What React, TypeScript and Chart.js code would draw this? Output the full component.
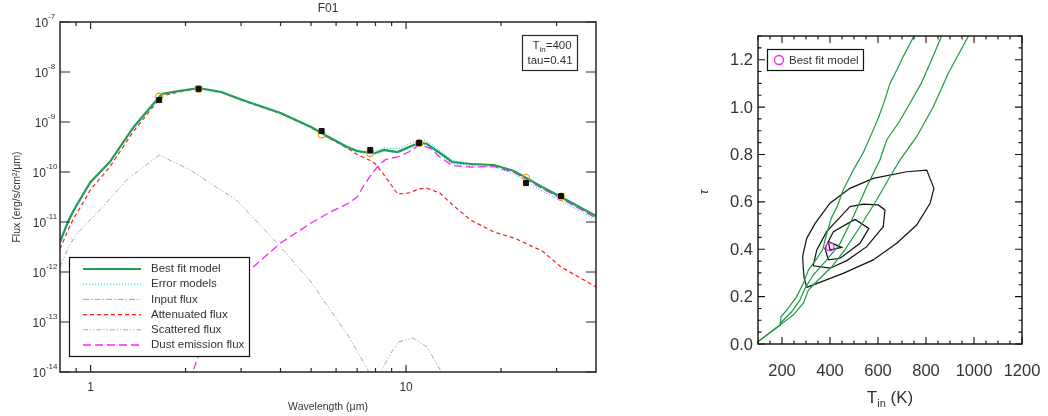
import { useEffect, useRef } from 'react';
import { Chart, registerables } from 'chart.js';

Chart.register(...registerables);

const FONT = '"Liberation Sans", Arial, Helvetica, sans-serif';
const INK = '#262626';
const TEXT = '#333333';

// ---------------- SED panel (F01) ----------------
const modelWavelengths = [0.8, 0.85, 0.885, 0.95, 1.0, 1.15, 1.37, 1.68, 1.9, 2.2, 2.6, 3.0, 4.0, 5.0, 5.5, 6.5, 7.0, 7.7, 8.0, 8.5, 9.4, 10.2, 11.0, 11.6, 12.8, 14, 16, 19, 22, 27, 31, 40];
const bestFitLog = [-11.4, -10.98, -10.76, -10.43, -10.2, -9.8, -9.1, -8.44, -8.38, -8.32, -8.4, -8.55, -8.82, -9.1, -9.25, -9.5, -9.58, -9.62, -9.62, -9.56, -9.6, -9.5, -9.42, -9.43, -9.62, -9.8, -9.84, -9.86, -9.98, -10.3, -10.5, -10.88];
const errorUpperLog = [-11.4, -10.98, -10.76, -10.43, -10.2, -9.8, -9.1, -8.44, -8.38, -8.32, -8.4, -8.55, -8.82, -9.1, -9.25, -9.48, -9.56, -9.6, -9.58, -9.52, -9.54, -9.44, -9.36, -9.37, -9.57, -9.77, -9.83, -9.86, -9.99, -10.32, -10.53, -10.92];
const errorLowerLog = [-11.42, -11.0, -10.78, -10.45, -10.22, -9.82, -9.12, -8.46, -8.4, -8.34, -8.42, -8.56, -8.83, -9.12, -9.27, -9.52, -9.6, -9.64, -9.64, -9.58, -9.62, -9.53, -9.45, -9.46, -9.64, -9.83, -9.87, -9.9, -10.04, -10.38, -10.58, -10.96];
// the unattenuated input model runs underneath the best fit over this range
const inputFluxLog = [-11.4, -10.98, -10.76, -10.43, -10.2, -9.8, -9.1, -8.44, -8.38, -8.32, -8.4, -8.55, -8.82, -9.1, -9.25, -9.5, -9.58, -9.62, -9.62, -9.56, -9.6, -9.5, -9.42, -9.43, -9.62, -9.8, -9.84, -9.86, -9.98, -10.3, -10.5, -10.88];
const attenuatedLog = [-11.54, -11.15, -10.92, -10.6, -10.35, -9.9, -9.18, -8.48, -8.4, -8.33, -8.41, -8.56, -8.83, -9.11, -9.27, -9.52, -9.65, -9.77, -9.84, -10.05, -10.44, -10.42, -10.34, -10.32, -10.42, -10.65, -10.96, -11.2, -11.32, -11.58, -11.9, -12.3];

const scatteredWavelengths = [0.8, 0.85, 0.9, 1.0, 1.07, 1.3, 1.65, 2.07, 2.5, 2.9, 3.9, 5.0, 5.75, 6.6, 7.57, 7.9, 8.27, 9.0, 9.45, 10.5, 11.65, 13.0, 13.5];
const scatteredLog = [-11.9, -11.52, -11.25, -10.95, -10.76, -10.16, -9.66, -9.96, -10.3, -10.56, -11.42, -12.2, -12.76, -13.3, -13.96, -14.4, -14.02, -13.6, -13.4, -13.32, -13.5, -14.02, -14.4];

const dustWavelengths = [2.0, 2.23, 2.52, 3.2, 4.0, 5.0, 5.75, 6.6, 7.0, 7.3, 7.7, 8.1, 8.6, 9.4, 10.2, 11.0, 11.9, 12.8, 14, 16, 19, 22, 27, 31, 40];
const dustLog = [-14.4, -13.56, -12.76, -11.96, -11.42, -11.02, -10.8, -10.62, -10.5, -10.3, -10.08, -9.9, -9.75, -9.7, -9.6, -9.46, -9.52, -9.7, -9.87, -9.9, -9.89, -10.01, -10.33, -10.53, -10.92];

const photWavelengths = [1.65, 2.2, 5.4, 7.7, 11.0, 24.0, 31.0];
const photObserved = [2.75e-9, 4.6e-9, 6.6e-10, 2.75e-10, 3.8e-10, 6.0e-11, 3.3e-11];
const photErrors = [0.25e-9, 0.35e-9, 0.6e-10, 0.25e-10, 0.3e-10, 0.6e-11, 0.3e-11];
const photModel = [3.2e-9, 4.6e-9, 5.7e-10, 2.4e-10, 3.8e-10, 7.6e-11, 3.2e-11];

const fluxDecades = [-14, -13, -12, -11, -10, -9, -8, -7];
const waveMajorTicks = [1, 10];
const waveMinorTicks = [0.9, 2, 3, 4, 5, 6, 7, 8, 9, 20, 30];

const legendEntries = ['Best fit model', 'Error models', 'Input flux', 'Attenuated flux', 'Scattered flux', 'Dust emission flux'];

const fitTin = 400;
const fitTau = 0.41;

// ---------------- T_in / tau grid panel ----------------
const trackAT = [100, 192, 196, 226, 261, 289, 310, 345, 370, 385, 405, 430, 455, 497, 540, 574, 601, 625, 650, 680, 705, 750];
const trackATau = [0.01, 0.08, 0.115, 0.151, 0.2, 0.256, 0.312, 0.36, 0.4, 0.46, 0.53, 0.58, 0.65, 0.734, 0.81, 0.889, 0.953, 1.02, 1.1, 1.16, 1.213, 1.3];
const trackBT = [100, 192, 199, 240, 275, 296, 330, 379, 421, 442, 497, 553, 608, 636, 690, 733, 780, 817, 865];
const trackBTau = [0.01, 0.08, 0.094, 0.136, 0.186, 0.235, 0.291, 0.347, 0.397, 0.425, 0.537, 0.664, 0.777, 0.861, 0.94, 1.016, 1.1, 1.185, 1.3];
const trackCT = [100, 192, 196, 247, 289, 310, 351, 407, 462, 525, 594, 650, 692, 761, 830, 893, 977];
const trackCTau = [0.01, 0.08, 0.084, 0.122, 0.172, 0.228, 0.27, 0.326, 0.397, 0.495, 0.608, 0.706, 0.777, 0.875, 1.0, 1.143, 1.3];

const contourOuterT = [303, 292, 288, 286, 303, 338, 400, 483, 580, 720, 803, 833, 817, 761, 678, 580, 455, 303];
const contourOuterTau = [0.239, 0.28, 0.33, 0.37, 0.446, 0.509, 0.594, 0.657, 0.699, 0.727, 0.734, 0.657, 0.594, 0.502, 0.425, 0.355, 0.298, 0.239];
const contourMiddleT = [483, 540, 601, 629, 622, 553, 470, 400, 330, 345, 386, 483];
const contourMiddleTau = [0.58, 0.59, 0.587, 0.566, 0.495, 0.411, 0.352, 0.32, 0.33, 0.397, 0.474, 0.58];
const contourInnerT = [504, 562, 525, 442, 393, 379, 414, 504];
const contourInnerTau = [0.526, 0.488, 0.425, 0.362, 0.355, 0.404, 0.474, 0.526];
const contourCoreT = [393, 449, 400, 393];
const contourCoreTau = [0.432, 0.408, 0.397, 0.432];

const tinTicks = [200, 400, 600, 800, 1000, 1200];
const tauTicks = [0, 0.2, 0.4, 0.6, 0.8, 1.0, 1.2];

// ---------------- helpers ----------------
const pairs = (xs: number[], ys: number[]) => xs.map((x, i) => ({ x, y: ys[i] }));
const logPairs = (xs: number[], logs: number[]) => xs.map((x, i) => ({ x, y: Math.pow(10, logs[i]) }));

const lineStyle = { pointRadius: 0, tension: 0, fill: false, showLine: true, spanGaps: true };

function drawSubText(ctx: CanvasRenderingContext2D, parts: { t: string; size: number; dy: number }[], cx: number, y: number) {
  let total = 0;
  for (const p of parts) {
    ctx.font = `${p.size}px ${FONT}`;
    total += ctx.measureText(p.t).width;
  }
  let x = cx - total / 2;
  ctx.textAlign = 'left';
  ctx.textBaseline = 'alphabetic';
  for (const p of parts) {
    ctx.font = `${p.size}px ${FONT}`;
    ctx.fillText(p.t, x, y + p.dy);
    x += ctx.measureText(p.t).width;
  }
}

// ---------------- SED panel decorations ----------------
const sedDecor = {
  id: 'sedDecor',
  afterDatasetsDraw(chart: any) {
    const { ctx, scales } = chart;
    const xs = scales.x, ys = scales.y;
    ctx.save();
    ctx.strokeStyle = '#111';
    ctx.lineWidth = 1;
    ctx.setLineDash([]);
    ctx.beginPath();
    photWavelengths.forEach((w, i) => {
      const px = xs.getPixelForValue(w);
      const y1 = ys.getPixelForValue(photObserved[i] + photErrors[i]);
      const y2 = ys.getPixelForValue(photObserved[i] - photErrors[i]);
      ctx.moveTo(px, y1); ctx.lineTo(px, y2);
      ctx.moveTo(px - 2, y1); ctx.lineTo(px + 2, y1);
      ctx.moveTo(px - 2, y2); ctx.lineTo(px + 2, y2);
    });
    ctx.stroke();
    ctx.restore();
  },
  afterDraw(chart: any) {
    const { ctx, chartArea: a, scales } = chart;
    const xs = scales.x, ys = scales.y;
    ctx.save();
    ctx.setLineDash([]);
    ctx.strokeStyle = INK;
    ctx.lineWidth = 1.5;
    ctx.strokeRect(a.left, a.top, a.right - a.left, a.bottom - a.top);

    ctx.lineWidth = 1.2;
    ctx.beginPath();
    for (const v of waveMajorTicks) {
      const px = xs.getPixelForValue(v);
      ctx.moveTo(px, a.bottom); ctx.lineTo(px, a.bottom - 7);
      ctx.moveTo(px, a.top); ctx.lineTo(px, a.top + 7);
    }
    for (const v of waveMinorTicks) {
      const px = xs.getPixelForValue(v);
      ctx.moveTo(px, a.bottom); ctx.lineTo(px, a.bottom - 4);
      ctx.moveTo(px, a.top); ctx.lineTo(px, a.top + 4);
    }
    for (const e of fluxDecades) {
      const py = ys.getPixelForValue(Math.pow(10, e));
      ctx.moveTo(a.left, py); ctx.lineTo(a.left + 10, py);
      ctx.moveTo(a.right, py); ctx.lineTo(a.right - 10, py);
    }
    ctx.stroke();

    // tick labels
    ctx.fillStyle = TEXT;
    for (const e of fluxDecades) {
      const py = ys.getPixelForValue(Math.pow(10, e));
      ctx.font = `12px ${FONT}`;
      const w1 = ctx.measureText('10').width;
      ctx.font = `8px ${FONT}`;
      const w2 = ctx.measureText(String(e)).width;
      const x0 = 45 - (w1 + w2) / 2;
      ctx.textAlign = 'left';
      ctx.textBaseline = 'alphabetic';
      ctx.font = `12px ${FONT}`;
      ctx.fillText('10', x0, py + 4.5);
      ctx.font = `8px ${FONT}`;
      ctx.fillText(String(e), x0 + w1, py - 3.5);
    }
    ctx.font = `12px ${FONT}`;
    ctx.textAlign = 'center';
    ctx.textBaseline = 'middle';
    for (const v of waveMajorTicks) {
      ctx.fillText(String(v), xs.getPixelForValue(v), 388);
    }

    // titles
    ctx.font = `12px ${FONT}`;
    ctx.fillText('F01', (a.left + a.right) / 2, 9);
    ctx.font = `10.5px ${FONT}`;
    ctx.fillText('Wavelength (\u03bcm)', (a.left + a.right) / 2, 407);
    ctx.save();
    ctx.translate(17, (a.top + a.bottom) / 2);
    ctx.rotate(-Math.PI / 2);
    ctx.fillText('Flux (erg/s/cm\u00b2/\u03bcm)', 0, 0);
    ctx.restore();

    // parameter box
    ctx.fillStyle = '#fff';
    ctx.fillRect(522, 35, 55, 35);
    ctx.strokeStyle = INK;
    ctx.lineWidth = 1.2;
    ctx.strokeRect(522.5, 35.5, 55, 35);
    ctx.fillStyle = TEXT;
    drawSubText(ctx, [
      { t: 'T', size: 11.5, dy: 0 },
      { t: 'in', size: 8, dy: 3 },
      { t: '=' + fitTin, size: 11.5, dy: 0 },
    ], 552, 49);
    drawSubText(ctx, [{ t: 'tau=' + fitTau.toFixed(2), size: 11.5, dy: 0 }], 550, 64);

    // legend
    const lx = 69.5, ly = 257.5, lw = 180, lh = 99;
    ctx.fillStyle = '#fff';
    ctx.fillRect(lx, ly, lw, lh);
    ctx.strokeStyle = '#111';
    ctx.lineWidth = 1.2;
    ctx.setLineDash([]);
    ctx.strokeRect(lx, ly, lw, lh);
    legendEntries.forEach((label, i) => {
      const ds = chart.data.datasets.find((d: any) => d.label === label);
      const rowY = 269 + i * 15.2;
      ctx.save();
      ctx.strokeStyle = ds.borderColor;
      ctx.lineWidth = ds.borderWidth;
      ctx.setLineDash(ds.borderDash || []);
      ctx.beginPath();
      ctx.moveTo(83, rowY); ctx.lineTo(141, rowY);
      ctx.stroke();
      ctx.restore();
      ctx.fillStyle = TEXT;
      ctx.font = `11.5px ${FONT}`;
      ctx.textAlign = 'left';
      ctx.textBaseline = 'middle';
      ctx.fillText(label, 151, rowY);
    });
    ctx.restore();
  },
};

function sedConfig(): any {
  return {
    type: 'line',
    data: {
      datasets: [
        { label: 'Best fit model', data: logPairs(modelWavelengths, bestFitLog), borderColor: '#1f9e5a', borderWidth: 2.2, order: 1, ...lineStyle },
        { label: 'Error models', data: logPairs(modelWavelengths, errorUpperLog), borderColor: '#22cccc', borderWidth: 1, borderDash: [1.2, 1.8], order: 3, ...lineStyle },
        { label: 'Error models (low)', data: logPairs(modelWavelengths, errorLowerLog), borderColor: '#22cccc', borderWidth: 1, borderDash: [1.2, 1.8], order: 3, ...lineStyle },
        { label: 'Input flux', data: logPairs(modelWavelengths, inputFluxLog), borderColor: '#ff9900', borderWidth: 1, borderDash: [6, 2, 1.5, 2], order: 4, ...lineStyle },
        { label: 'Attenuated flux', data: logPairs(modelWavelengths, attenuatedLog), borderColor: '#ff1a1a', borderWidth: 1.2, borderDash: [4, 3], order: 5, ...lineStyle },
        { label: 'Scattered flux', data: logPairs(scatteredWavelengths, scatteredLog), borderColor: '#a8a8a8', borderWidth: 1, borderDash: [5, 2, 1.2, 2, 1.2, 2], order: 6, ...lineStyle },
        { label: 'Dust emission flux', data: logPairs(dustWavelengths, dustLog), borderColor: '#ff22ff', borderWidth: 1.3, borderDash: [8, 4], order: 2, ...lineStyle },
        {
          label: 'Observed', data: pairs(photWavelengths, photObserved), showLine: false,
          pointStyle: 'rect', pointRadius: 3.5, backgroundColor: '#111', borderColor: '#111', borderWidth: 1, order: 0,
        },
        {
          label: 'Model photometry', data: pairs(photWavelengths, photModel), showLine: false,
          pointStyle: 'circle', pointRadius: 3.5, backgroundColor: 'rgba(0,0,0,0)', borderColor: '#f0a020', borderWidth: 1.3, order: 0,
        },
      ],
    },
    options: {
      responsive: false,
      animation: false,
      events: [],
      layout: { padding: { left: 60, top: 22, right: 44, bottom: 44 } },
      plugins: { legend: { display: false }, tooltip: { enabled: false } },
      scales: {
        x: { type: 'logarithmic', min: 0.8, max: 40, display: false },
        y: { type: 'logarithmic', min: 1e-14, max: 1e-7, display: false },
      },
    },
    plugins: [sedDecor],
  };
}

// ---------------- grid panel decorations ----------------
const gridDecor = {
  id: 'gridDecor',
  afterDraw(chart: any) {
    const { ctx, chartArea: a, scales } = chart;
    const xs = scales.x, ys = scales.y;
    ctx.save();
    ctx.setLineDash([]);
    ctx.strokeStyle = '#111';
    ctx.lineWidth = 1.4;
    ctx.strokeRect(a.left, a.top, a.right - a.left, a.bottom - a.top);
    ctx.lineWidth = 1.1;
    ctx.beginPath();
    for (let t = 100; t <= 1200; t += 50) {
      const px = xs.getPixelForValue(t);
      const len = t % 200 === 0 ? 7 : 3.5;
      ctx.moveTo(px, a.bottom); ctx.lineTo(px, a.bottom - len);
      ctx.moveTo(px, a.top); ctx.lineTo(px, a.top + len);
    }
    for (let k = 0; k <= 26; k++) {
      const v = k * 0.05;
      const py = ys.getPixelForValue(v);
      const len = k % 4 === 0 ? 7 : 3.5;
      ctx.moveTo(a.left, py); ctx.lineTo(a.left + len, py);
      ctx.moveTo(a.right, py); ctx.lineTo(a.right - len, py);
    }
    ctx.stroke();

    ctx.fillStyle = TEXT;
    ctx.font = `16.5px ${FONT}`;
    ctx.textAlign = 'center';
    ctx.textBaseline = 'middle';
    for (const t of tinTicks) ctx.fillText(String(t), xs.getPixelForValue(t), 371);
    ctx.textAlign = 'right';
    for (const v of tauTicks) ctx.fillText(v.toFixed(1), a.left - 5, ys.getPixelForValue(v) + 1);

    // axis titles
    ctx.fillStyle = TEXT;
    drawSubText(ctx, [
      { t: 'T', size: 17, dy: 0 },
      { t: 'in', size: 11, dy: 4 },
      { t: ' (K)', size: 17, dy: 0 },
    ], (a.left + a.right) / 2, 403);
    ctx.save();
    ctx.translate(15, 192);
    ctx.rotate(-Math.PI / 2);
    ctx.font = `italic 12px ${FONT}`;
    ctx.textAlign = 'center';
    ctx.textBaseline = 'middle';
    ctx.fillText('\u03c4', 0, 0);
    ctx.restore();

    // legend
    const best = chart.data.datasets.find((d: any) => d.label === 'Best fit model');
    ctx.fillStyle = '#fff';
    ctx.fillRect(77, 49, 96, 21);
    ctx.strokeStyle = '#111';
    ctx.lineWidth = 1.2;
    ctx.strokeRect(77.5, 49.5, 96, 21);
    ctx.strokeStyle = best.borderColor;
    ctx.lineWidth = best.borderWidth;
    ctx.beginPath();
    ctx.arc(89, 60, 4.5, 0, Math.PI * 2);
    ctx.stroke();
    ctx.fillStyle = TEXT;
    ctx.font = `11.5px ${FONT}`;
    ctx.textAlign = 'left';
    ctx.textBaseline = 'middle';
    ctx.fillText('Best fit model', 99, 60.5);
    ctx.restore();
  },
};

function gridConfig(): any {
  const green = '#1c9a40';
  return {
    type: 'line',
    data: {
      datasets: [
        { label: 'track A', data: pairs(trackAT, trackATau), borderColor: green, borderWidth: 1.2, ...lineStyle },
        { label: 'track B', data: pairs(trackBT, trackBTau), borderColor: green, borderWidth: 1.2, ...lineStyle },
        { label: 'track C', data: pairs(trackCT, trackCTau), borderColor: green, borderWidth: 1.2, ...lineStyle },
        { label: 'contour 1', data: pairs(contourOuterT, contourOuterTau), borderColor: '#111', borderWidth: 1.2, ...lineStyle },
        { label: 'contour 2', data: pairs(contourMiddleT, contourMiddleTau), borderColor: '#111', borderWidth: 1.2, ...lineStyle },
        { label: 'contour 3', data: pairs(contourInnerT, contourInnerTau), borderColor: '#111', borderWidth: 1.2, ...lineStyle },
        { label: 'contour 4', data: pairs(contourCoreT, contourCoreTau), borderColor: '#111', borderWidth: 1.2, ...lineStyle },
        {
          label: 'Best fit model', data: [{ x: fitTin, y: fitTau }], showLine: false, order: -1,
          pointStyle: 'circle', pointRadius: 4, backgroundColor: 'rgba(0,0,0,0)', borderColor: '#ff22ff', borderWidth: 1.3,
        },
      ],
    },
    options: {
      responsive: false,
      animation: false,
      events: [],
      layout: { padding: { left: 68, top: 36, right: 26, bottom: 72 } },
      plugins: { legend: { display: false }, tooltip: { enabled: false } },
      scales: {
        x: { type: 'linear', min: 100, max: 1200, display: false },
        y: { type: 'linear', min: 0, max: 1.3, display: false },
      },
    },
    plugins: [gridDecor],
  };
}

export default function App() {
  const sedRef = useRef<HTMLCanvasElement>(null);
  const gridRef = useRef<HTMLCanvasElement>(null);

  useEffect(() => {
    const sed = new Chart(sedRef.current as HTMLCanvasElement, sedConfig());
    const grid = new Chart(gridRef.current as HTMLCanvasElement, gridConfig());
    return () => {
      sed.destroy();
      grid.destroy();
    };
  }, []);

  return (
    <div style={{ position: 'absolute', left: 0, top: 0, width: 1048, height: 416, background: '#fff', overflow: 'hidden' }}>
      <canvas ref={sedRef} width={640} height={416} style={{ position: 'absolute', left: 0, top: 0 }} />
      <canvas ref={gridRef} width={358} height={416} style={{ position: 'absolute', left: 690, top: 0 }} />
    </div>
  );
}
